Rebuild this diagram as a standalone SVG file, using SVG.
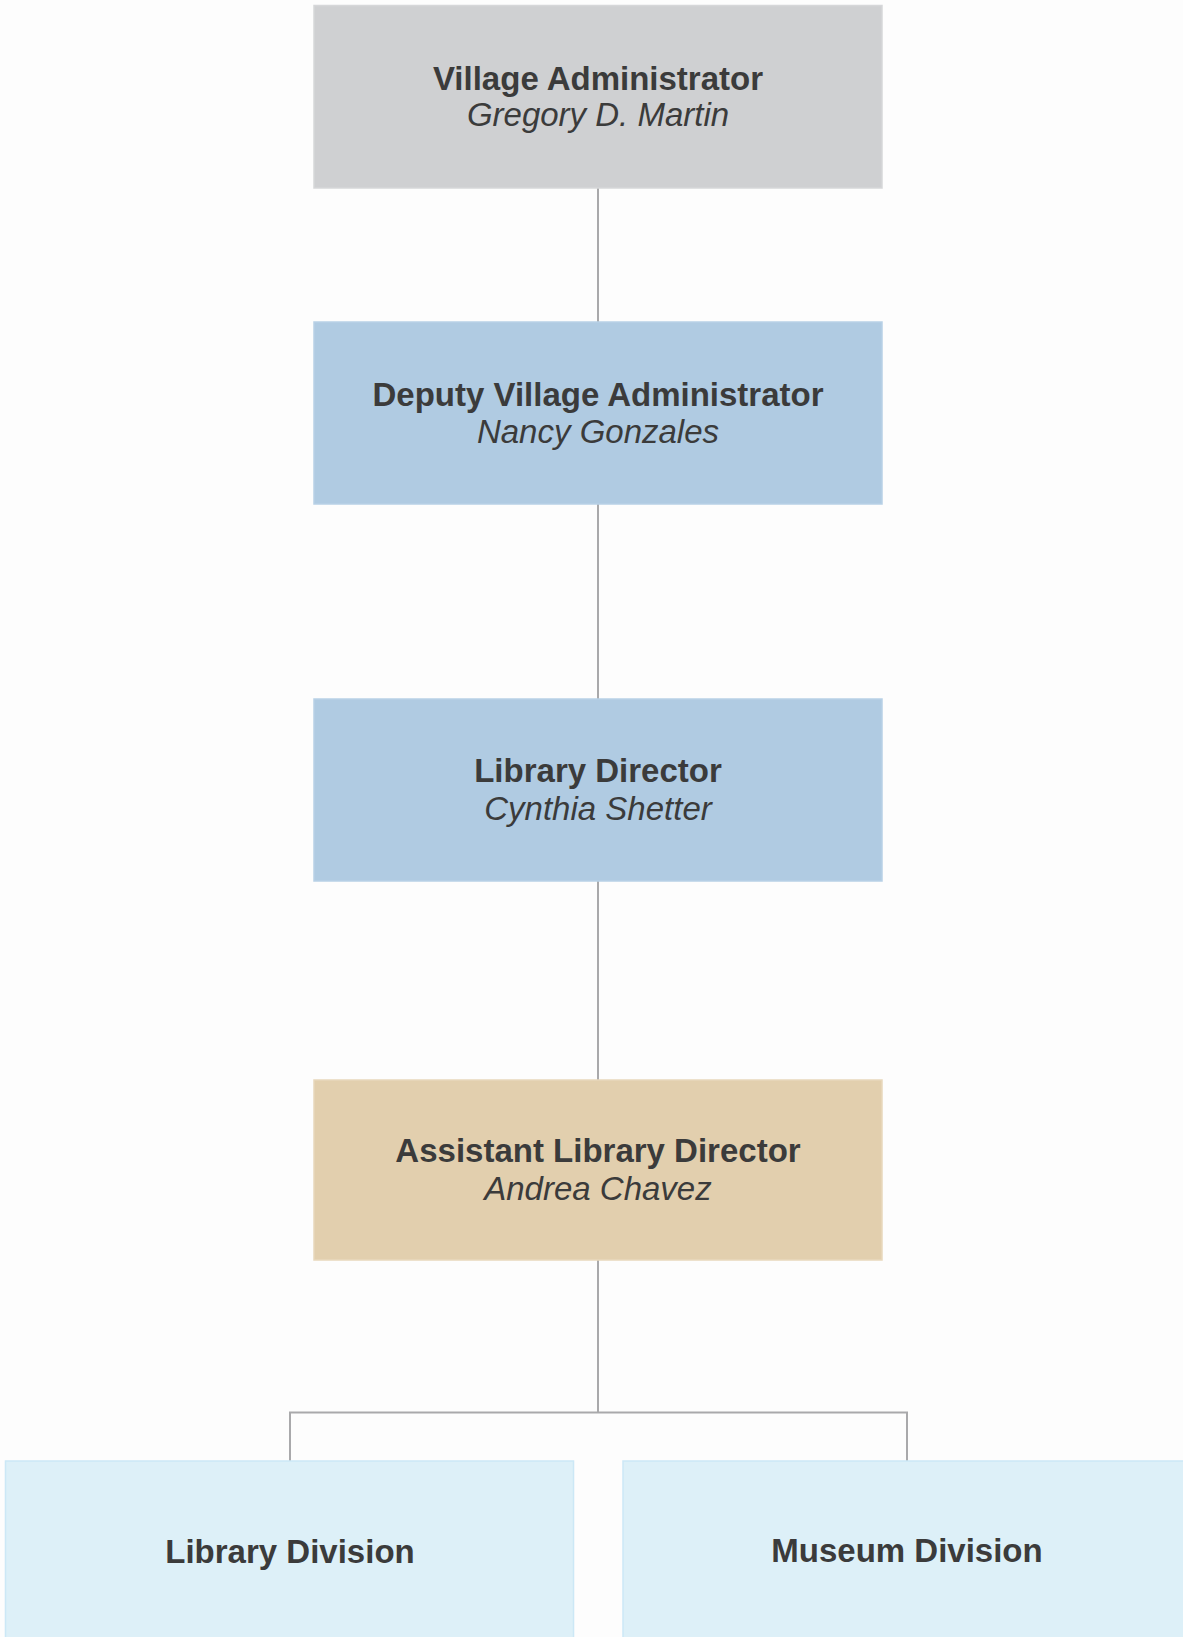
<svg xmlns="http://www.w3.org/2000/svg" width="1183" height="1637" viewBox="0 0 1183 1637">
  <style>
    .box { stroke-width: 1.5; }
    .t1 { font-family: "Liberation Sans", Arial, sans-serif; font-size: 33px; font-weight: bold; fill: #3b3b3b; text-anchor: middle; }
    .t2 { font-family: "Liberation Sans", Arial, sans-serif; font-size: 33px; font-style: italic; fill: #3b3b3b; text-anchor: middle; }
    .link { fill: none; stroke: #a9a9ab; stroke-width: 2; }
  </style>
  <rect width="1183" height="1637" fill="#fdfdfd"/>

  <g id="connectors">
    <path class="link" d="M598 188 V322"/>
    <path class="link" d="M598 504 V699"/>
    <path class="link" d="M598 881 V1080"/>
    <path class="link" d="M598 1260 V1412.5"/>
    <path class="link" d="M290 1461 V1412.5 H907 V1461"/>
  </g>

  <g id="village-administrator">
    <rect class="box" x="314" y="5.5" width="568" height="182.5" fill="#cfd0d2" stroke="#d6d7d9"/>
    <text class="t1" x="598" y="90">Village Administrator</text>
    <text class="t2" x="598" y="126">Gregory D. Martin</text>
  </g>

  <g id="deputy-village-administrator">
    <rect class="box" x="314" y="322" width="568" height="182" fill="#b0cbe2" stroke="#b8d1e6"/>
    <text class="t1" x="598" y="406">Deputy Village Administrator</text>
    <text class="t2" x="598" y="443">Nancy Gonzales</text>
  </g>

  <g id="library-director">
    <rect class="box" x="314" y="699" width="568" height="182" fill="#b0cbe2" stroke="#b8d1e6"/>
    <text class="t1" x="598" y="782">Library Director</text>
    <text class="t2" x="598" y="820">Cynthia Shetter</text>
  </g>

  <g id="assistant-library-director">
    <rect class="box" x="314" y="1080" width="568" height="180" fill="#e2cfae" stroke="#e8d8bc"/>
    <text class="t1" x="598" y="1162">Assistant Library Director</text>
    <text class="t2" x="598" y="1200">Andrea Chavez</text>
  </g>

  <g id="library-division">
    <rect class="box" x="5.5" y="1461" width="568" height="183" fill="#ddf0f8" stroke="#cce8f6"/>
    <text class="t1" x="290" y="1563">Library Division</text>
  </g>

  <g id="museum-division">
    <rect class="box" x="623" y="1461" width="568" height="183" fill="#ddf0f8" stroke="#cce8f6"/>
    <text class="t1" x="907" y="1562">Museum Division</text>
  </g>
</svg>
